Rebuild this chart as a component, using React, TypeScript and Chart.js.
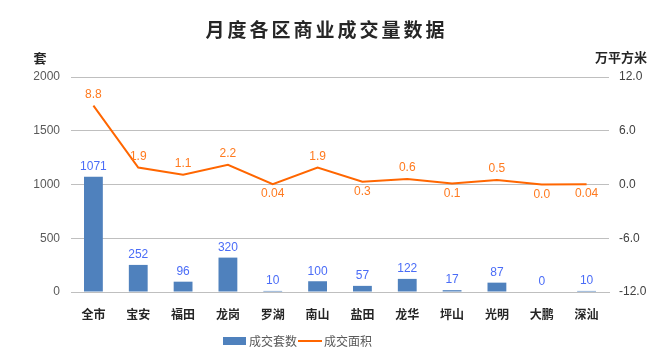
import React, { useEffect, useRef } from 'react';
import { Chart, registerables } from 'chart.js';

Chart.register(...registerables);

const categories = ['全市', '宝安', '福田', '龙岗', '罗湖', '南山', '盐田', '龙华', '坪山', '光明', '大鹏', '深汕'];
const unitsSold = [1071, 252, 96, 320, 10, 100, 57, 122, 17, 87, 0, 10];
const areaSold = [8.8, 1.9, 1.1, 2.2, 0.04, 1.9, 0.3, 0.6, 0.1, 0.5, 0.0, 0.04];
const areaLabels = ['8.8', '1.9', '1.1', '2.2', '0.04', '1.9', '0.3', '0.6', '0.1', '0.5', '0.0', '0.04'];
const areaLabelBelow = [false, false, false, false, true, false, true, false, true, false, true, true];

const titleText = '月度各区商业成交量数据';
const leftUnit = '套';
const rightUnit = '万平方米';
const seriesNames = ['成交套数', '成交面积'];

const BAR_COLOR = '#4f81bd';
const LINE_COLOR = '#ff6600';
const BAR_LABEL_COLOR = '#4a6cf7';
const LINE_LABEL_COLOR = '#ff7a1f';
const SANS = '"Noto Sans CJK SC", "Liberation Sans", sans-serif';
const NUM = '"Liberation Sans", Arial, sans-serif';

const decorPlugin = {
  id: 'decor',
  afterDatasetsDraw(chart: any) {
    const ctx = chart.ctx;
    ctx.save();
    const barMeta = chart.getDatasetMeta(0);
    ctx.font = `12px ${NUM}`;
    ctx.fillStyle = BAR_LABEL_COLOR;
    ctx.textAlign = 'center';
    ctx.textBaseline = 'middle';
    barMeta.data.forEach((el: any, i: number) => {
      ctx.fillText(String(unitsSold[i]), el.x, el.y - 10);
    });
    const lineMeta = chart.getDatasetMeta(1);
    ctx.fillStyle = LINE_LABEL_COLOR;
    lineMeta.data.forEach((el: any, i: number) => {
      const dy = areaLabelBelow[i] ? 10 : -11;
      ctx.fillText(areaLabels[i], el.x, el.y + dy);
    });
    ctx.restore();
  },
  afterDraw(chart: any) {
    const ctx = chart.ctx;
    ctx.save();
    ctx.font = `bold 19px ${SANS}`;
    ctx.fillStyle = '#262626';
    ctx.textBaseline = 'middle';
    ctx.textAlign = 'center';
    const step = 22;
    const startX = 325 - ((titleText.length - 1) * step) / 2;
    for (let i = 0; i < titleText.length; i++) {
      ctx.fillText(titleText[i], startX + i * step, 30);
    }
    ctx.font = `bold 13px ${SANS}`;
    ctx.fillStyle = '#262626';
    ctx.fillText(leftUnit, 40, 58);
    ctx.fillText(rightUnit, 621, 57);
    const ly = 341;
    ctx.font = `12px ${SANS}`;
    ctx.fillStyle = BAR_COLOR;
    ctx.fillRect(223, ly - 4, 23, 8);
    ctx.fillStyle = '#595959';
    ctx.textAlign = 'left';
    ctx.fillText(seriesNames[0], 249, ly);
    ctx.strokeStyle = LINE_COLOR;
    ctx.lineWidth = 2;
    ctx.beginPath();
    ctx.moveTo(298, ly);
    ctx.lineTo(322, ly);
    ctx.stroke();
    ctx.fillText(seriesNames[1], 324, ly);
    ctx.restore();
  },
};

export default function App() {
  const canvasRef = useRef<HTMLCanvasElement | null>(null);

  useEffect(() => {
    document.body.style.margin = '0';
    const canvas = canvasRef.current;
    if (!canvas) return;
    const chart = new Chart(canvas, {
      type: 'bar',
      data: {
        labels: categories,
        datasets: [
          {
            type: 'bar',
            label: seriesNames[0],
            data: unitsSold,
            backgroundColor: BAR_COLOR,
            yAxisID: 'y',
            barPercentage: 0.42,
            categoryPercentage: 1,
            order: 2,
          },
          {
            type: 'line',
            label: seriesNames[1],
            data: areaSold,
            borderColor: LINE_COLOR,
            backgroundColor: LINE_COLOR,
            borderWidth: 2,
            pointRadius: 0,
            tension: 0,
            yAxisID: 'y1',
            order: 1,
          },
        ],
      },
      options: {
        animation: false,
        responsive: true,
        maintainAspectRatio: false,
        layout: { padding: { top: 77, left: 0, right: 0, bottom: 0 } },
        plugins: {
          legend: { display: false },
          title: { display: false },
          tooltip: { enabled: false },
        },
        scales: {
          x: {
            grid: { display: false },
            border: { display: true, color: '#bfbfbf' },
            ticks: {
              color: '#262626',
              font: { family: SANS, size: 12, weight: 'bold' },
              padding: 7,
              maxRotation: 0,
            },
            afterFit(scale: any) {
              scale.height = 65;
            },
          },
          y: {
            position: 'left',
            min: 0,
            max: 2000,
            ticks: {
              stepSize: 500,
              color: '#595959',
              font: { family: NUM, size: 12 },
              padding: 11,
              callback: (v: any) => String(v),
            },
            grid: { color: '#bfbfbf', drawTicks: false },
            border: { display: false },
            afterFit(scale: any) {
              scale.width = 71;
            },
          },
          y1: {
            position: 'right',
            min: -12,
            max: 12,
            ticks: {
              stepSize: 6,
              color: '#404040',
              font: { family: NUM, size: 12 },
              padding: 10,
              callback: (v: any) => Number(v).toFixed(1),
            },
            grid: { display: false, drawTicks: false },
            border: { display: false },
            afterFit(scale: any) {
              scale.width = 54;
            },
          },
        },
      },
      plugins: [decorPlugin],
    });
    return () => chart.destroy();
  }, []);

  return (
    <div style={{ position: 'absolute', left: 0, top: 0, width: 663, height: 357, background: '#fff' }}>
      <canvas ref={canvasRef} />
    </div>
  );
}
